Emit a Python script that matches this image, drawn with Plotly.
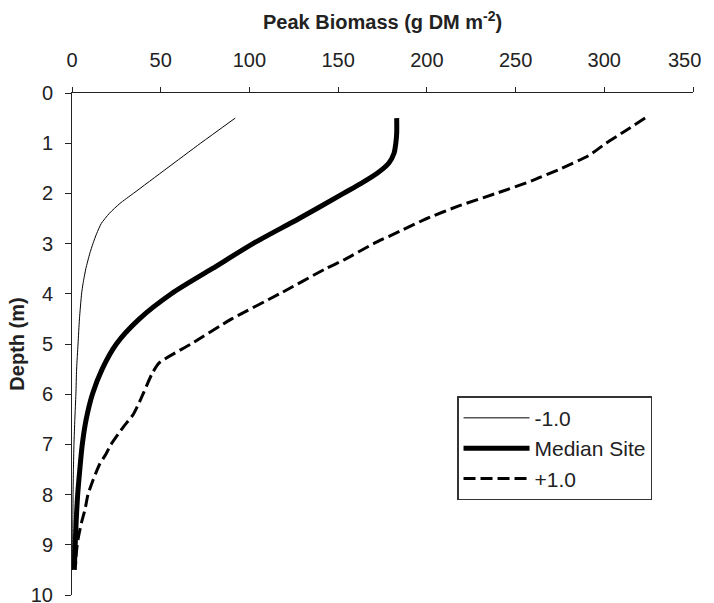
import plotly.graph_objects as go

# Depth (m) and peak biomass (g DM m^-2) for each scenario
depth_minus = [0.5, 1.0, 1.5, 2.0, 2.2, 2.4, 2.6, 2.8, 3.0, 3.2, 3.5, 3.8, 4.0, 4.5, 5.0, 5.5, 6.0, 6.5, 7.0, 7.5, 8.0, 8.5, 9.0, 9.5]
biomass_minus = [92, 72.5, 53.5, 34.6, 27, 21, 16.5, 13.9, 11.8, 10, 7.8, 6.2, 5.4, 4.2, 3.4, 2.6, 2.2, 1.6, 1.1, 0.8, 0.6, 0.5, 0.4, 0.3]

depth_median = [0.5, 0.8, 1.0, 1.2, 1.4, 1.6, 1.8, 2.0, 2.5, 3.0, 3.5, 4.0, 4.5, 5.0, 5.5, 6.0, 6.5, 7.0, 7.5, 8.0, 8.5, 9.0, 9.5]
biomass_median = [183, 183, 182.5, 181.5, 178.5, 172, 163, 153, 128, 102, 79, 56, 38, 25, 17, 11.5, 8, 5.8, 4.4, 3.2, 2.4, 1.8, 1.3]

depth_plus = [0.5, 0.75, 1.0, 1.25, 1.5, 1.75, 2.0, 2.25, 2.5, 2.75, 3.0, 3.33, 3.5, 4.0, 4.5, 5.0, 5.38, 5.6, 6.0, 6.4, 6.65, 7.0, 7.2, 7.4, 7.7, 8.0, 8.3, 8.55, 8.85, 9.1, 9.4]
biomass_plus = [323, 312, 301, 291, 276, 259, 239, 218, 200, 185, 170, 153, 143, 117, 90, 67, 49, 45, 40, 34.6, 29, 22, 19, 15.5, 12, 9, 7.3, 5.4, 3.6, 2.6, 2.0]

series_names = ["-1.0", "Median Site", "+1.0"]

x_ticks = [0, 50, 100, 150, 200, 250, 300, 350]
x_tick_labels = ["0", "50", "100", "150", "200", "250", "300", "350\u00a0\u00a0\u00a0"]
y_ticks = [0, 1, 2, 3, 4, 5, 6, 7, 8, 9, 10]

FONT = "Liberation Sans, Arial, sans-serif"

fig = go.Figure()
fig.add_trace(go.Scatter(x=biomass_minus, y=depth_minus, mode="lines", name=series_names[0],
                         line=dict(color="black", width=1, shape="spline", smoothing=0.6)))
fig.add_trace(go.Scatter(x=biomass_median, y=depth_median, mode="lines", name=series_names[1],
                         line=dict(color="black", width=5, shape="spline", smoothing=0.8)))
fig.add_trace(go.Scatter(x=biomass_plus, y=depth_plus, mode="lines", name=series_names[2],
                         line=dict(color="black", width=3, dash="12px,5px", shape="spline", smoothing=0.6)))

fig.add_annotation(text="<b>Peak Biomass (g DM m<sup>-2</sup>)</b>", xref="paper", yref="paper",
                   x=0.5, y=1, xanchor="center", yanchor="bottom", yshift=58, showarrow=False,
                   font=dict(size=20, family=FONT, color="#222"))

fig.update_layout(
    width=714, height=603,
    margin=dict(l=72, r=21, t=93, b=8),
    paper_bgcolor="white", plot_bgcolor="white",
    font=dict(family=FONT, size=20, color="#222"),
    showlegend=True,
    legend=dict(x=0.62, y=0.396, xanchor="left", yanchor="top",
                bgcolor="white", bordercolor="#333", borderwidth=1.5,
                font=dict(size=21, color="#222"), itemwidth=66,
                tracegroupgap=0),
    xaxis=dict(side="top", range=[0, 350], tickvals=x_ticks, ticktext=x_tick_labels,
               ticks="outside", ticklen=5,
               tickcolor="#222", showline=True, linecolor="#222", linewidth=1,
               showgrid=False, zeroline=False, ticklabelstandoff=12,
               automargin=False, ticklabeloverflow="allow"),
    yaxis=dict(range=[10, 0], tickvals=y_ticks, ticks="outside", ticklen=6,
               tickcolor="#222", showline=True, linecolor="#222", linewidth=1,
               showgrid=False, zeroline=False, ticklabelstandoff=8,
               automargin=False, ticklabeloverflow="allow",
               title=dict(text="<b>Depth (m)</b>", standoff=0,
                          font=dict(size=20, family=FONT, color="#222"))),
)

fig.write_html("out.html", config={"displayModeBar": False},
               post_script="document.body.style.margin='0';document.body.style.overflow='hidden';")
